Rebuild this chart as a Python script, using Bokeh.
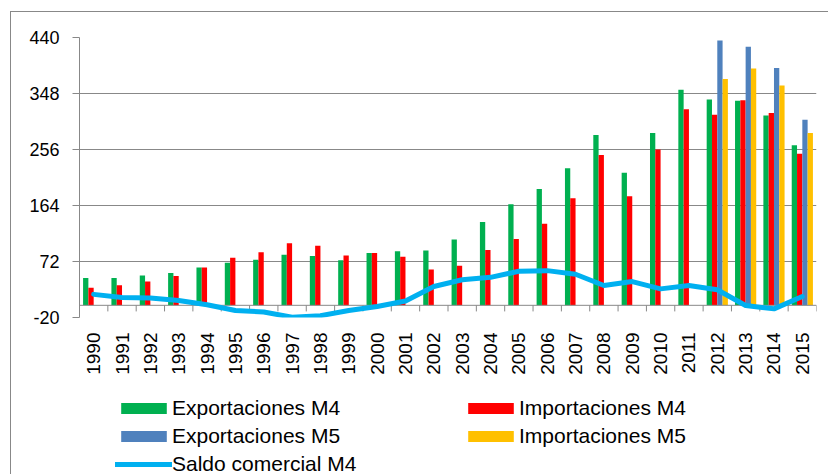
import math
import numpy as np
from bokeh.plotting import figure
from bokeh.layouts import column
from bokeh.models import ColumnDataSource, Range1d, FixedTicker, Legend, LegendItem
from bokeh.transform import dodge
from bokeh.embed import file_html
from bokeh.resources import INLINE

years = [str(y) for y in range(1990, 2016)]
exp_m4 = [45, 45, 49, 53, 62, 70, 75, 83, 81, 74, 86, 89, 90, 108, 137, 166, 191, 225,
          280, 218, 283, 354, 338, 336, 312, 263]
imp_m4 = [29, 33, 39, 48, 62, 78, 87, 102, 98, 82, 86, 80, 59, 65, 91, 109, 134, 176,
          247, 179, 256, 322, 313, 337, 316, 249]
exp_m5 = [None] * 22 + [435, 425, 390, 305]
imp_m5 = [None] * 22 + [372, 389, 361, 283]
saldo_m4 = [18, 13, 12, 8, 1, -8.5, -11, -19.5, -17, -8.5, -2, 7, 31, 42, 46, 56, 57, 51,
            32.5, 39, 27, 32.5, 25.5, -0.3, -5.8, 14.5]
y_ticks = [-20, 72, 164, 256, 348, 440]
series_labels = ["Exportaciones M4", "Importaciones M4", "Exportaciones M5",
                 "Importaciones M5", "Saldo comercial M4"]

GREEN, RED, BLUE, YELLOW, CYAN = "#00B050", "#FF0000", "#4F81BD", "#FFC000", "#00B0F0"
GRAY = "#888888"
FONT = "Liberation Sans"

def nanify(a):
    return [np.nan if v is None else v for v in a]

idx = np.arange(len(years))
src = ColumnDataSource(dict(
    xc=idx + 0.5,
    exp_m4=exp_m4, imp_m4=imp_m4,
    exp_m5=nanify(exp_m5), imp_m5=nanify(imp_m5),
    saldo=saldo_m4,
))

p = figure(width=817, height=380, output_backend="svg", toolbar_location=None,
           x_range=Range1d(0, len(years)), y_range=Range1d(y_ticks[0], y_ticks[-1]),
           min_border_left=68, min_border_right=12, min_border_top=25, min_border_bottom=75)
p.outline_line_alpha = 0
p.xgrid.visible = False
p.ygrid.ticker = FixedTicker(ticks=y_ticks)
p.ygrid.grid_line_color = GRAY
p.ygrid.grid_line_width = 1

# y axis (plain hyphen for negatives, as in the original)
p.yaxis.ticker = FixedTicker(ticks=y_ticks)
p.yaxis.major_label_overrides = {t: str(t) for t in y_ticks}
p.yaxis.axis_line_color = GRAY
p.yaxis.major_tick_line_color = GRAY
p.yaxis.major_tick_out = 7
p.yaxis.major_tick_in = 0
p.yaxis.minor_tick_line_color = None
p.yaxis.major_label_standoff = 13
p.yaxis.major_label_text_font = FONT
p.yaxis.major_label_text_font_size = "18px"
p.yaxis.major_label_text_color = "#000000"

# x axis (labels only; the category line is drawn at zero)
p.xaxis.ticker = FixedTicker(ticks=list(idx + 0.5))
p.xaxis.major_label_overrides = {float(i + 0.5): y for i, y in enumerate(years)}
p.xaxis.axis_line_color = None
p.xaxis.major_tick_line_color = None
p.xaxis.minor_tick_line_color = None
p.xaxis.major_label_orientation = math.pi / 2
p.xaxis.major_label_standoff = 9
p.xaxis.major_label_text_font = FONT
p.xaxis.major_label_text_font_size = "19px"
p.xaxis.major_label_text_color = "#000000"

bw = 0.187
offs = [-1.5 * bw, -0.5 * bw, 0.5 * bw, 1.5 * bw]
bar_cols = ["exp_m4", "imp_m4", "exp_m5", "imp_m5"]
bar_colors = [GREEN, RED, BLUE, YELLOW]
for off, col, color in zip(offs, bar_cols, bar_colors):
    p.vbar(x=dodge("xc", off), top=col, bottom=0, width=bw, source=src,
           fill_color=color, line_color=None)

# category axis line at zero with tick marks at category boundaries
n = len(years)
p.segment(x0=[0], y0=[0], x1=[n], y1=[0], line_color=GRAY, line_width=1)
p.segment(x0=list(range(n + 1)), y0=[0] * (n + 1), x1=list(range(n + 1)), y1=[-10] * (n + 1),
          line_color=GRAY, line_width=1)

p.line(x="xc", y="saldo", source=src, line_color=CYAN, line_width=5,
       line_join="round", line_cap="round")

# legend strip below the chart (hidden renderers only supply legend swatches)
q = figure(width=817, height=82, output_backend="svg", toolbar_location=None,
           x_range=Range1d(0, len(years)), y_range=Range1d(y_ticks[0], y_ticks[-1]),
           min_border=0, x_axis_location=None, y_axis_location=None)
q.outline_line_alpha = 0
q.xgrid.visible = False
q.ygrid.visible = False
swatches = []
for off, col, color in zip(offs, bar_cols, bar_colors):
    swatches.append(q.vbar(x=dodge("xc", off), top=col, bottom=0, width=bw, source=src,
                           fill_color=color, line_color=None, visible=False))
swatches.append(q.line(x="xc", y="saldo", source=src, line_color=CYAN, line_width=5,
                       line_cap="round", visible=False))

legend = Legend(items=[LegendItem(label=lab, renderers=[g])
                       for lab, g in zip(series_labels, swatches)],
                location=(36, -2), orientation="horizontal", ncols=2)
legend.glyph_width = 57
legend.glyph_height = 14
legend.label_standoff = 0
legend.label_width = 286
legend.label_height = 24
legend.spacing = 4
legend.padding = 0
legend.margin = 0
legend.border_line_alpha = 0
legend.background_fill_alpha = 0
legend.label_text_font = FONT
legend.label_text_font_size = "21px"
legend.label_text_color = "#000000"
q.add_layout(legend, "center")

layout = column(p, q, spacing=0,
                styles={"border-left": "1px solid #888888", "border-top": "1px solid #888888",
                        "margin-left": "10px", "margin-top": "11px"})

open("out.html", "w").write(file_html(layout, INLINE))
